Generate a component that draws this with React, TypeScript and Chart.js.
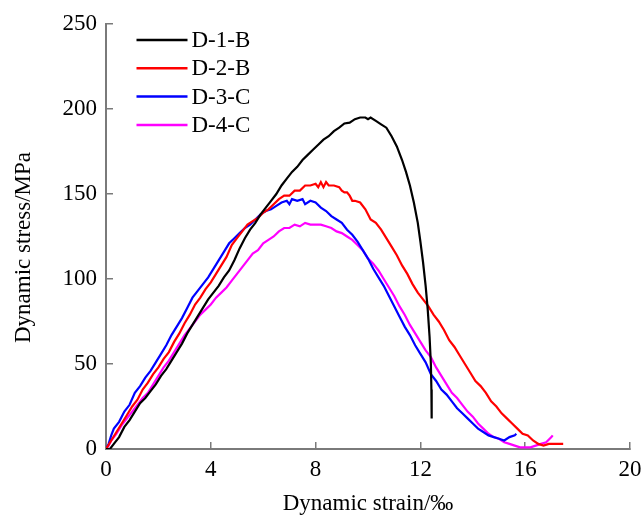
import React, { useEffect, useRef } from "react";
import { Chart, registerables } from "chart.js";

Chart.register(...registerables);

const SERIES_NAMES = ["D-1-B", "D-2-B", "D-3-C", "D-4-C"];
const SERIES_COLORS = ["#000000", "#ff0000", "#0000ff", "#ff00ff"];

const D1B_STRAIN = [0, 0.15, 0.3, 0.5, 0.7, 0.9, 1.1, 1.3, 1.5, 1.7, 1.9, 2.1, 2.3, 2.5, 2.7, 2.9, 3.1, 3.3, 3.5, 3.7, 3.9, 4.1, 4.3, 4.5, 4.7, 4.9, 5.1, 5.3, 5.5, 5.7, 5.9, 6.1, 6.3, 6.5, 6.7, 6.9, 7.1, 7.3, 7.5, 7.7, 7.9, 8.1, 8.3, 8.5, 8.7, 8.9, 9.1, 9.3, 9.5, 9.7, 9.9, 10.0, 10.1, 10.3, 10.5, 10.7, 10.9, 11.1, 11.3, 11.45, 11.6, 11.75, 11.9, 12.0, 12.1, 12.2, 12.28, 12.35, 12.4, 12.42, 12.43];
const D1B_STRESS = [0, 0, 3, 7, 13, 17, 22, 27, 30, 34, 38, 43, 47, 52, 57, 62, 68, 73, 78, 83, 88, 92, 96, 101, 105, 111, 118, 124, 129, 133, 138, 142, 146, 150, 155, 159, 163, 166, 170, 173, 176, 179, 182, 184, 187, 189, 191.5, 192, 194, 195, 195, 194, 195, 193, 191, 189, 184, 178, 170, 163, 155, 145, 133, 122, 110, 96, 82, 66, 50, 35, 18];

const D2B_STRAIN = [0, 0.2, 0.4, 0.6, 0.8, 1.0, 1.2, 1.4, 1.6, 1.8, 2.0, 2.2, 2.4, 2.6, 2.8, 3.0, 3.2, 3.4, 3.6, 3.8, 4.0, 4.2, 4.4, 4.6, 4.8, 5.0, 5.2, 5.4, 5.6, 5.8, 6.0, 6.2, 6.4, 6.6, 6.8, 7.0, 7.2, 7.4, 7.6, 7.8, 8.0, 8.1, 8.2, 8.3, 8.4, 8.5, 8.7, 8.9, 9.0, 9.1, 9.2, 9.3, 9.4, 9.5, 9.7, 9.9, 10.1, 10.3, 10.5, 10.7, 10.9, 11.1, 11.3, 11.5, 11.7, 11.9, 12.1, 12.3, 12.5, 12.7, 12.9, 13.1, 13.3, 13.5, 13.7, 13.9, 14.1, 14.3, 14.5, 14.7, 14.9, 15.1, 15.3, 15.5, 15.7, 15.9, 16.1, 16.3, 16.5, 16.7, 16.9, 17.1, 17.3, 17.45];
const D2B_STRESS = [0, 5, 10, 15, 20, 25, 29, 35, 39, 44, 48, 53, 57, 63, 68, 74, 79, 85, 89, 94, 98, 103, 108, 113, 120, 124, 128, 132, 134, 136, 139, 141, 144, 147, 149, 149, 152, 152, 155, 155, 156, 154, 157, 154, 157, 155, 155, 154, 152, 151, 151, 149, 146, 146, 145, 141, 135, 133, 129, 124, 119, 114, 108, 103, 97, 92, 88, 84, 79, 75, 70, 64, 60, 55, 50, 45, 40, 37, 33, 28, 25, 21, 18, 15, 12, 9, 8, 5, 3, 2, 3, 3, 3, 3];

const D3C_STRAIN = [0, 0.1, 0.2, 0.3, 0.5, 0.7, 0.9, 1.1, 1.3, 1.5, 1.7, 1.9, 2.1, 2.3, 2.5, 2.7, 2.9, 3.1, 3.3, 3.5, 3.7, 3.9, 4.1, 4.3, 4.5, 4.7, 4.9, 5.1, 5.3, 5.5, 5.7, 5.9, 6.1, 6.3, 6.5, 6.7, 6.9, 7.0, 7.1, 7.3, 7.5, 7.6, 7.8, 8.0, 8.2, 8.4, 8.6, 8.8, 9.0, 9.2, 9.4, 9.6, 9.8, 10.0, 10.2, 10.4, 10.6, 10.8, 11.0, 11.2, 11.4, 11.6, 11.8, 12.0, 12.2, 12.4, 12.6, 12.8, 13.0, 13.2, 13.4, 13.6, 13.8, 14.0, 14.2, 14.4, 14.6, 14.8, 15.0, 15.2, 15.4, 15.6, 15.66];
const D3C_STRESS = [0, 3, 8, 12, 16, 22, 26, 33, 37, 42, 46, 51, 56, 61, 67, 72, 77, 83, 89, 93, 97, 101, 106, 111, 116, 121, 124, 127, 130, 132, 135, 138, 140, 141, 143, 145, 146, 144, 147, 146, 147, 144, 146, 145, 142, 140, 137, 135, 133, 129, 126, 122, 117, 112, 106, 101, 96, 90, 84, 78, 72, 67, 61, 56, 51, 44, 40, 35, 32, 28, 24, 21, 18, 15, 12, 10, 8, 7, 6, 5, 7, 8, 9];

const D4C_STRAIN = [0, 0.1, 0.2, 0.4, 0.6, 0.8, 1.0, 1.2, 1.4, 1.6, 1.8, 2.0, 2.2, 2.4, 2.6, 2.8, 3.0, 3.2, 3.4, 3.6, 3.8, 4.0, 4.2, 4.4, 4.6, 4.8, 5.0, 5.2, 5.4, 5.6, 5.8, 6.0, 6.2, 6.4, 6.6, 6.8, 7.0, 7.2, 7.4, 7.6, 7.8, 8.0, 8.2, 8.4, 8.6, 8.8, 9.0, 9.2, 9.4, 9.6, 9.8, 10.0, 10.2, 10.4, 10.6, 10.8, 11.0, 11.2, 11.4, 11.6, 11.8, 12.0, 12.2, 12.4, 12.6, 12.8, 13.0, 13.2, 13.4, 13.6, 13.8, 14.0, 14.2, 14.4, 14.6, 14.8, 15.0, 15.2, 15.4, 15.6, 15.8, 16.0, 16.2, 16.4, 16.6, 16.8, 17.0, 17.05];
const D4C_STRESS = [0, 2, 5, 9, 14, 18, 22, 26, 30, 33, 38, 43, 48, 52, 57, 62, 67, 71, 75, 79, 82, 85, 89, 92, 95, 99, 103, 107, 111, 115, 117, 121, 123, 125, 128, 130, 130, 132, 131, 133, 132, 132, 132, 131, 130, 128, 127, 125, 123, 120, 117, 112, 109, 105, 100, 95, 90, 84, 79, 73, 68, 63, 58, 54, 48, 43, 38, 33, 30, 26, 22, 19, 15, 12, 9, 7, 6, 4, 3, 2, 1, 1, 1, 2, 3, 4, 7, 8];

const X_TICKS = [0, 4, 8, 12, 16, 20];
const Y_TICKS = [0, 50, 100, 150, 200, 250];
const X_TITLE = "Dynamic strain/\u2030";
const Y_TITLE = "Dynamic stress/MPa";

const FONT_FAMILY = '"Liberation Serif", "Times New Roman", serif';
const AXIS_COLOR = "#7a7a7a";

function toPoints(xs: number[], ys: number[]) {
  return xs.map((x, i) => ({ x, y: ys[i] }));
}

const insideLegend = {
  id: "insideLegend",
  afterDraw(chart: any) {
    const { ctx, chartArea } = chart;
    ctx.save();
    ctx.font = `23px ${FONT_FAMILY}`;
    ctx.textBaseline = "middle";
    ctx.textAlign = "left";
    chart.data.datasets.forEach((ds: any, i: number) => {
      const y = chartArea.top + 16 + i * 28.3;
      const x0 = chartArea.left + 30.5;
      ctx.strokeStyle = ds.borderColor;
      ctx.lineWidth = 2.5;
      ctx.beginPath();
      ctx.moveTo(x0, y);
      ctx.lineTo(x0 + 51, y);
      ctx.stroke();
      ctx.fillStyle = "#000000";
      ctx.fillText(ds.label, x0 + 55, y + 1);
    });
    // y-axis title, slightly below the plot's vertical centre as in the reference
    ctx.translate(24, (chartArea.top + chartArea.bottom) / 2 + 11);
    ctx.rotate(-Math.PI / 2);
    ctx.textAlign = "center";
    ctx.textBaseline = "middle";
    ctx.fillText(Y_TITLE, 0, 0);
    ctx.restore();
  },
};

export default function App() {
  const canvasRef = useRef<HTMLCanvasElement | null>(null);

  useEffect(() => {
    if (!canvasRef.current) return;
    const series = [
      [D1B_STRAIN, D1B_STRESS],
      [D2B_STRAIN, D2B_STRESS],
      [D3C_STRAIN, D3C_STRESS],
      [D4C_STRAIN, D4C_STRESS],
    ];
    const chart = new Chart(canvasRef.current, {
      type: "line",
      data: {
        datasets: series.map((s, i) => ({
          label: SERIES_NAMES[i],
          data: toPoints(s[0] as number[], s[1] as number[]),
          borderColor: SERIES_COLORS[i],
          backgroundColor: SERIES_COLORS[i],
          borderWidth: 2.2,
          pointRadius: 0,
          tension: 0,
          fill: false,
        })),
      },
      plugins: [insideLegend],
      options: {
        animation: false,
        responsive: false,
        devicePixelRatio: 1,
        layout: { padding: { top: 24, right: 11, bottom: 0, left: 0 } },
        plugins: {
          legend: { display: false },
          tooltip: { enabled: false },
        },
        scales: {
          x: {
            type: "linear",
            min: 0,
            max: 20,
            afterBuildTicks: (scale: any) => {
              scale.ticks = X_TICKS.map((v) => ({ value: v }));
            },
            afterFit: (scale: any) => {
              scale.height = 69;
              scale.paddingLeft = 0;
              scale.paddingRight = 0;
            },
            grid: {
              drawOnChartArea: false,
              drawTicks: true,
              tickLength: -7,
              color: AXIS_COLOR,
              lineWidth: 1.5,
            },
            border: { color: AXIS_COLOR, width: 2 },
            ticks: {
              color: "#000000",
              font: { family: FONT_FAMILY, size: 23 },
              padding: 14,
              maxRotation: 0,
            },
            title: {
              display: true,
              text: X_TITLE,
              color: "#000000",
              font: { family: FONT_FAMILY, size: 23 },
              padding: { top: 0, bottom: 0 },
            },
          },
          y: {
            type: "linear",
            min: 0,
            max: 250,
            afterBuildTicks: (scale: any) => {
              scale.ticks = Y_TICKS.map((v) => ({ value: v }));
            },
            afterFit: (scale: any) => {
              scale.width = 106;
              scale.paddingTop = 0;
              scale.paddingBottom = 0;
            },
            grid: {
              drawOnChartArea: false,
              drawTicks: true,
              tickLength: -7,
              color: AXIS_COLOR,
              lineWidth: 1.5,
            },
            border: { color: AXIS_COLOR, width: 2 },
            ticks: {
              color: "#000000",
              font: { family: FONT_FAMILY, size: 23 },
              padding: 16,
            },
            title: { display: false },
          },
        },
      },
    } as any);
    return () => chart.destroy();
  }, []);

  return (
    <div style={{ position: "absolute", left: 0, top: 0, width: 641, height: 518, background: "#ffffff" }}>
      <canvas ref={canvasRef} width={641} height={518} style={{ display: "block", width: 641, height: 518 }} />
    </div>
  );
}
